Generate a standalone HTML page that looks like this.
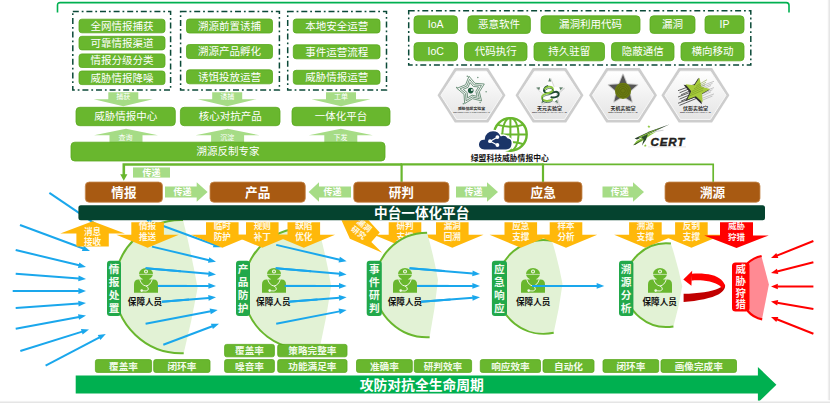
<!DOCTYPE html>
<html lang="zh-CN">
<head>
<meta charset="utf-8">
<title>攻防对抗全生命周期</title>
<style>
html,body{margin:0;padding:0;background:#fff;}
body{width:830px;height:403px;overflow:hidden;font-family:'Liberation Sans', 'Noto Sans CJK SC', sans-serif;}
svg{display:block;font-family:'Liberation Sans', 'Noto Sans CJK SC', sans-serif;}
</style>
</head>
<body>
<svg width="830" height="403" viewBox="0 0 830 403">
<defs>
<linearGradient id="gr" x1="0" x2="1" y1="0" y2="0"><stop offset="0" stop-color="#ffffff"/><stop offset="0.55" stop-color="#ececec"/><stop offset="1" stop-color="#e2e2e2"/></linearGradient>
<linearGradient id="gb" x1="0" x2="0" y1="0" y2="1"><stop offset="0" stop-color="#ffffff"/><stop offset="0.5" stop-color="#ececec"/><stop offset="1" stop-color="#e0e0e0"/></linearGradient>
<linearGradient id="hexg" x1="0" x2="0" y1="0" y2="1"><stop offset="0" stop-color="#ffffff"/><stop offset="1" stop-color="#e4e4e4"/></linearGradient>
<g id="person"><ellipse cx="0" cy="6" rx="7" ry="5.9" fill="#69B72E"/><rect x="-3.2" y="9" width="6.4" height="5" fill="#69B72E"/><path d="M-12,25 V16.5 Q-12,11.8 -7.5,11.8 H7.5 Q12,11.8 12,16.5 V25 Z" fill="#69B72E"/><path d="M-7.2,6.6 H7.2" stroke="#e8f5dc" stroke-width="0.7" fill="none"/><circle cx="0" cy="3.7" r="2" fill="#f4faee"/><circle cx="0" cy="3.7" r="0.9" fill="#69B72E"/><path d="M-6.3,11.6 Q-4.5,17.5 0,18.2 Q4.5,17.5 6.3,11.6" stroke="#eaf6e0" stroke-width="1" fill="none"/><path d="M0,18.2 Q3,19.5 2.3,21.8 Q1,24 -3.5,23" stroke="#eaf6e0" stroke-width="1" fill="none"/><circle cx="-4.3" cy="22.8" r="1.3" fill="#f4faee"/></g>
</defs>
<rect x="0" y="0" width="830" height="403" fill="#ffffff"/>
<rect x="827.2" y="0" width="2.8" height="403" fill="url(#gr)"/>
<rect x="0" y="400.4" width="830" height="2.6" fill="url(#gb)"/>
<path d="M57.5,12.6 V5.3 Q57.5,2.6 60.2,2.6 H786.3 Q789,2.6 789,5.3 V12.6" fill="none" stroke="#00B050" stroke-width="1.6"/>
<rect x="72.8" y="11.6" width="97.8" height="78.4" fill="none" stroke="#0B4A38" stroke-width="1.5" stroke-dasharray="6 2.9 1.8 2.9"/>
<rect x="180.6" y="11.6" width="98.8" height="78.4" fill="none" stroke="#0B4A38" stroke-width="1.5" stroke-dasharray="6 2.9 1.8 2.9"/>
<rect x="287.7" y="11.6" width="98.8" height="78.4" fill="none" stroke="#0B4A38" stroke-width="1.5" stroke-dasharray="6 2.9 1.8 2.9"/>
<rect x="408.7" y="10.8" width="342.1" height="54.2" fill="none" stroke="#0B4A38" stroke-width="1.5" stroke-dasharray="6 2.9 1.8 2.9"/>
<rect x="79" y="19.2" width="86" height="13.6" rx="2.8" fill="#69B72E" stroke="#58A81D" stroke-width="0.8"/>
<text x="122" y="29.78" font-size="10.5" fill="#fff" text-anchor="middle">全网情报捕获</text>
<rect x="79" y="36.3" width="86" height="13.6" rx="2.8" fill="#69B72E" stroke="#58A81D" stroke-width="0.8"/>
<text x="122" y="46.88" font-size="10.5" fill="#fff" text-anchor="middle">可靠情报渠道</text>
<rect x="79" y="53.9" width="86" height="13.6" rx="2.8" fill="#69B72E" stroke="#58A81D" stroke-width="0.8"/>
<text x="122" y="64.48" font-size="10.5" fill="#fff" text-anchor="middle">情报分级分类</text>
<rect x="79" y="71" width="86" height="13.6" rx="2.8" fill="#69B72E" stroke="#58A81D" stroke-width="0.8"/>
<text x="122" y="81.58" font-size="10.5" fill="#fff" text-anchor="middle">威胁情报降噪</text>
<rect x="186.5" y="19" width="86" height="14" rx="2.8" fill="#69B72E" stroke="#58A81D" stroke-width="0.8"/>
<text x="229.5" y="29.78" font-size="10.5" fill="#fff" text-anchor="middle">溯源前置诱捕</text>
<rect x="186.5" y="44.5" width="86" height="14" rx="2.8" fill="#69B72E" stroke="#58A81D" stroke-width="0.8"/>
<text x="229.5" y="55.28" font-size="10.5" fill="#fff" text-anchor="middle">溯源产品孵化</text>
<rect x="186.5" y="69.8" width="86" height="14" rx="2.8" fill="#69B72E" stroke="#58A81D" stroke-width="0.8"/>
<text x="229.5" y="80.58" font-size="10.5" fill="#fff" text-anchor="middle">诱饵投放运营</text>
<rect x="293.3" y="19" width="86.7" height="14" rx="2.8" fill="#69B72E" stroke="#58A81D" stroke-width="0.8"/>
<text x="336.65" y="29.78" font-size="10.5" fill="#fff" text-anchor="middle">本地安全运营</text>
<rect x="293.3" y="44.8" width="86.7" height="14" rx="2.8" fill="#69B72E" stroke="#58A81D" stroke-width="0.8"/>
<text x="336.65" y="55.58" font-size="10.5" fill="#fff" text-anchor="middle">事件运营流程</text>
<rect x="293.3" y="70.3" width="86.7" height="14" rx="2.8" fill="#69B72E" stroke="#58A81D" stroke-width="0.8"/>
<text x="336.65" y="81.08" font-size="10.5" fill="#fff" text-anchor="middle">威胁情报运营</text>
<rect x="414" y="15.8" width="43.5" height="17.6" rx="3.6" fill="#69B72E" stroke="#58A81D" stroke-width="0.8"/>
<text x="435.75" y="28.38" font-size="10.5" fill="#fff" text-anchor="middle">IoA</text>
<rect x="467.8" y="15.8" width="62.6" height="17.6" rx="3.6" fill="#69B72E" stroke="#58A81D" stroke-width="0.8"/>
<text x="499.1" y="28.38" font-size="10.5" fill="#fff" text-anchor="middle">恶意软件</text>
<rect x="541" y="15.8" width="99" height="17.6" rx="3.6" fill="#69B72E" stroke="#58A81D" stroke-width="0.8"/>
<text x="590.5" y="28.38" font-size="10.5" fill="#fff" text-anchor="middle">漏洞利用代码</text>
<rect x="650" y="15.8" width="45" height="17.6" rx="3.6" fill="#69B72E" stroke="#58A81D" stroke-width="0.8"/>
<text x="672.5" y="28.38" font-size="10.5" fill="#fff" text-anchor="middle">漏洞</text>
<rect x="705" y="15.8" width="39" height="17.6" rx="3.6" fill="#69B72E" stroke="#58A81D" stroke-width="0.8"/>
<text x="724.5" y="28.38" font-size="10.5" fill="#fff" text-anchor="middle">IP</text>
<rect x="414" y="42.6" width="43.5" height="18.2" rx="3.6" fill="#69B72E" stroke="#58A81D" stroke-width="0.8"/>
<text x="435.75" y="55.48" font-size="10.5" fill="#fff" text-anchor="middle">IoC</text>
<rect x="464.5" y="42.6" width="62.5" height="18.2" rx="3.6" fill="#69B72E" stroke="#58A81D" stroke-width="0.8"/>
<text x="495.75" y="55.48" font-size="10.5" fill="#fff" text-anchor="middle">代码执行</text>
<rect x="534" y="42.6" width="70.5" height="18.2" rx="3.6" fill="#69B72E" stroke="#58A81D" stroke-width="0.8"/>
<text x="569.25" y="55.48" font-size="10.5" fill="#fff" text-anchor="middle">持久驻留</text>
<rect x="611.5" y="42.6" width="62.5" height="18.2" rx="3.6" fill="#69B72E" stroke="#58A81D" stroke-width="0.8"/>
<text x="642.75" y="55.48" font-size="10.5" fill="#fff" text-anchor="middle">隐蔽通信</text>
<rect x="681" y="42.6" width="63" height="18.2" rx="3.6" fill="#69B72E" stroke="#58A81D" stroke-width="0.8"/>
<text x="712.5" y="55.48" font-size="10.5" fill="#fff" text-anchor="middle">横向移动</text>
<polygon points="108.3,92.2 138.3,92.2 138.3,99.2 152.8,99.2 123.3,106.3 93.8,99.2 108.3,99.2" fill="#A6DC86"/>
<text x="123.3" y="99.42" font-size="7" fill="#fff" text-anchor="middle">捕获</text>
<polygon points="126,128.8 158,135.3 142.5,135.3 142.5,143 109.5,143 109.5,135.3 94,135.3" fill="#A6DC86"/>
<text x="125.6" y="140.22" font-size="7" fill="#fff" text-anchor="middle">查询</text>
<polygon points="212.2,92.2 242.2,92.2 242.2,99.2 256.7,99.2 227.2,106.3 197.7,99.2 212.2,99.2" fill="#A6DC86"/>
<text x="227.2" y="99.42" font-size="7" fill="#fff" text-anchor="middle">诱捕</text>
<polygon points="227.6,128.8 259.6,135.3 244.1,135.3 244.1,143 211.1,143 211.1,135.3 195.6,135.3" fill="#A6DC86"/>
<text x="227.2" y="140.22" font-size="7" fill="#fff" text-anchor="middle">沉淀</text>
<polygon points="326,92.2 356,92.2 356,99.2 370.5,99.2 341,106.3 311.5,99.2 326,99.2" fill="#A6DC86"/>
<text x="341" y="99.42" font-size="7" fill="#fff" text-anchor="middle">工单</text>
<polygon points="340.8,128.8 372.8,135.3 357.3,135.3 357.3,143 324.3,143 324.3,135.3 308.8,135.3" fill="#A6DC86"/>
<text x="340.4" y="140.22" font-size="7" fill="#fff" text-anchor="middle">下发</text>
<rect x="76" y="107.3" width="99.3" height="18.4" rx="3.8" fill="#69B72E" stroke="#58A81D" stroke-width="0.8"/>
<text x="125.65" y="120.28" font-size="10.5" fill="#fff" text-anchor="middle">威胁情报中心</text>
<rect x="180.4" y="107.3" width="99.6" height="18.4" rx="3.8" fill="#69B72E" stroke="#58A81D" stroke-width="0.8"/>
<text x="230.2" y="120.28" font-size="10.5" fill="#fff" text-anchor="middle">核心对抗产品</text>
<rect x="292" y="107.3" width="98" height="18.4" rx="3.8" fill="#69B72E" stroke="#58A81D" stroke-width="0.8"/>
<text x="341" y="120.28" font-size="10.5" fill="#fff" text-anchor="middle">一体化平台</text>
<rect x="71" y="142.2" width="314" height="18.8" rx="3.8" fill="#69B72E" stroke="#58A81D" stroke-width="0.8"/>
<text x="228" y="155.38" font-size="10.5" fill="#fff" text-anchor="middle">溯源反制专家</text>
<polygon points="437.5,95.3 454.8,68.05 488.2,68.05 505.5,95.3 488.2,122.55 454.8,122.55" fill="#cdcdcd"/>
<polygon points="440.9,95.3 456.5,71.2 486.5,71.2 502.1,95.3 486.5,119.4 456.5,119.4" fill="url(#hexg)"/>
<polygon points="440.9,95.3 456.5,71.2 486.5,71.2 502.1,95.3 486.5,119.4 456.5,119.4" fill="none" stroke="#fafafa" stroke-width="0.9"/>
<polygon points="469.02,76.18 475.01,83.32 484.31,83.97 479.38,91.88 481.62,100.92 472.58,98.68 464.67,103.61 464.02,94.31 456.88,88.32 465.52,84.82" fill="none" stroke="#6c917a" stroke-width="0.95" stroke-linejoin="round"/>
<polygon points="469.52,79.34 474.2,84.91 481.46,85.42 477.61,91.6 479.36,98.66 472.3,96.91 466.12,100.76 465.61,93.5 460.04,88.82 466.79,86.09" fill="none" stroke="#6c917a" stroke-width="0.95" stroke-linejoin="round"/>
<polygon points="470.02,82.5 473.38,86.51 478.61,86.88 475.84,91.32 477.1,96.4 472.02,95.14 467.58,97.91 467.21,92.68 463.2,89.32 468.05,87.35" fill="none" stroke="#6c917a" stroke-width="0.95" stroke-linejoin="round"/>
<circle cx="456.7" cy="87.4" r="0.75" fill="#6c917a"/>
<circle cx="477.8" cy="77.4" r="0.75" fill="#6c917a"/>
<circle cx="486.1" cy="91.8" r="0.75" fill="#6c917a"/>
<circle cx="463.3" cy="103.8" r="0.75" fill="#6c917a"/>
<circle cx="480.1" cy="102.6" r="0.75" fill="#6c917a"/>
<circle cx="467.3" cy="76.2" r="0.75" fill="#6c917a"/>
<circle cx="470.7" cy="90.6" r="2.8" fill="#1f5a3f"/>
<circle cx="471.9" cy="90" r="0.9" fill="#ffffff"/>
<text x="471.5" y="109.6" font-size="3.9" fill="#2b2b2b" text-anchor="middle" font-weight="bold">威胁情报实验室</text>
<text x="471.5" y="112.5" font-size="2.3" fill="#333333" text-anchor="middle" textLength="36.5" lengthAdjust="spacingAndGlyphs"><tspan font-weight="bold">NSFOCUS</tspan> THREAT INTELLIGENCE LAB</text>
<polygon points="515.5,95.3 532.8,68.05 566.2,68.05 583.5,95.3 566.2,122.55 532.8,122.55" fill="#cdcdcd"/>
<polygon points="518.9,95.3 534.5,71.2 564.5,71.2 580.1,95.3 564.5,119.4 534.5,119.4" fill="url(#hexg)"/>
<polygon points="518.9,95.3 534.5,71.2 564.5,71.2 580.1,95.3 564.5,119.4 534.5,119.4" fill="none" stroke="#fafafa" stroke-width="0.9"/>
<polygon points="550.6,78 554.48,87.66 564.87,88.36 556.88,95.04 559.42,105.14 550.6,99.6 541.78,105.14 544.32,95.04 536.33,88.36 546.72,87.66" fill="#d9d9d9" stroke="#d9d9d9" stroke-width="1" stroke-linejoin="round"/>
<polygon points="549.7,77.2 553.52,86.74 563.78,87.43 555.88,94.01 558.4,103.97 549.7,98.5 541,103.97 543.52,94.01 535.62,87.43 545.88,86.74" fill="#ffffff"/>
<polygon points="549.7,77.8 551.2,81.4 548.2,81.4" fill="#5f7f6a"/>
<polygon points="563.21,87.61 560.24,90.15 559.32,87.3" fill="#5f7f6a"/>
<polygon points="558.05,103.49 554.72,101.46 557.14,99.69" fill="#5f7f6a"/>
<polygon points="541.35,103.49 542.26,99.69 544.68,101.46" fill="#5f7f6a"/>
<polygon points="536.19,87.61 540.08,87.3 539.16,90.15" fill="#5f7f6a"/>
<g transform="translate(549.7,92) scale(0.84) translate(-549.7,-91.4)">
<path d="M547.1,84.4 c-3.4,1.2 -5.4,4.4 -3.4,7 c2.2,2.6 8,1.4 11.4,0.2 c3.6,-1.2 6,0.6 5.2,3.4 c-0.8,2.6 -5.6,3.4 -8.6,2.6" fill="none" stroke="#1f4a33" stroke-width="2.3" stroke-linecap="round"/>
<path d="M544.1,87.6 c2.5,-3.6 8.5,-3.4 9.5,0.4 c0.8,3.6 -4.5,4.6 -8,5.4 c-4.2,1 -6.4,3.4 -4.6,6.4 c2,3 8.6,2.8 11.4,0.4" fill="none" stroke="#8CC63F" stroke-width="2.3" stroke-linecap="round"/>
<path d="M544.5,89.6 c2.5,-3.6 8.5,-3.4 9.5,0.4 c0.8,3.6 -4.5,4.6 -8,5.4 c-4.2,1 -6.4,3.4 -4.6,6.4 c2,3 8.6,2.8 11.4,0.4" fill="none" stroke="#1f4a33" stroke-width="0.8" stroke-linecap="round"/>
</g>
<text x="549.5" y="110" font-size="5" fill="#2b2b2b" text-anchor="middle" font-weight="bold">天元实验室</text>
<text x="549.5" y="113.4" font-size="2.3" fill="#333333" text-anchor="middle" textLength="35" lengthAdjust="spacingAndGlyphs"><tspan font-weight="bold">NSFOCUS</tspan> TIANYUAN LAB</text>
<polygon points="589,95.3 606.3,68.05 639.7,68.05 657,95.3 639.7,122.55 606.3,122.55" fill="#cdcdcd"/>
<polygon points="592.4,95.3 608,71.2 638,71.2 653.6,95.3 638,119.4 608,119.4" fill="url(#hexg)"/>
<polygon points="592.4,95.3 608,71.2 638,71.2 653.6,95.3 638,119.4 608,119.4" fill="none" stroke="#fafafa" stroke-width="0.9"/>
<polygon points="623,74.4 627,84.1 637.46,84.9 629.47,91.7 631.93,101.9 623,96.4 614.07,101.9 616.53,91.7 608.54,84.9 619,84.1" fill="#c9c9c9" stroke="#c9c9c9" stroke-width="1.6" stroke-linejoin="round"/>
<polygon points="623,74.8 626.88,84.26 637.08,85.03 629.28,91.64 631.7,101.57 623,96.2 614.3,101.57 616.72,91.64 608.92,85.03 619.12,84.26" fill="#555555"/>
<circle cx="623" cy="90.8" r="8.1" fill="#6b7a12"/>
<circle cx="623" cy="90.8" r="6.2" fill="none" stroke="#58650c" stroke-width="0.7"/>
<circle cx="623" cy="90.8" r="4.3" fill="none" stroke="#58650c" stroke-width="0.7"/>
<circle cx="623" cy="90.8" r="2.4" fill="none" stroke="#58650c" stroke-width="0.7"/>
<text x="623" y="110" font-size="5" fill="#2b2b2b" text-anchor="middle" font-weight="bold">天机实验室</text>
<text x="623" y="112.6" font-size="2.3" fill="#333333" text-anchor="middle" textLength="29.5" lengthAdjust="spacingAndGlyphs"><tspan font-weight="bold">NSFOCUS</tspan> TIANJI LAB</text>
<polygon points="661.4,95.3 678.7,68.05 712.1,68.05 729.4,95.3 712.1,122.55 678.7,122.55" fill="#cdcdcd"/>
<polygon points="664.8,95.3 680.4,71.2 710.4,71.2 726,95.3 710.4,119.4 680.4,119.4" fill="url(#hexg)"/>
<polygon points="664.8,95.3 680.4,71.2 710.4,71.2 726,95.3 710.4,119.4 680.4,119.4" fill="none" stroke="#fafafa" stroke-width="0.9"/>
<line x1="678" y1="90.7" x2="696" y2="83.9" stroke="#3c3c3c" stroke-width="0.8"/>
<line x1="700" y1="86.5" x2="714" y2="81.3" stroke="#b9b9b9" stroke-width="0.8"/>
<line x1="679.5" y1="92.8" x2="696" y2="86" stroke="#3c3c3c" stroke-width="0.8"/>
<line x1="700" y1="88.6" x2="712.5" y2="83.4" stroke="#b9b9b9" stroke-width="0.8"/>
<line x1="681" y1="94.9" x2="696" y2="88.1" stroke="#3c3c3c" stroke-width="0.8"/>
<line x1="700" y1="90.7" x2="711" y2="85.5" stroke="#b9b9b9" stroke-width="0.8"/>
<line x1="678" y1="97" x2="696" y2="90.2" stroke="#3c3c3c" stroke-width="0.8"/>
<line x1="700" y1="92.8" x2="714" y2="87.6" stroke="#b9b9b9" stroke-width="0.8"/>
<line x1="679.5" y1="99.1" x2="696" y2="92.3" stroke="#3c3c3c" stroke-width="0.8"/>
<line x1="700" y1="94.9" x2="712.5" y2="89.7" stroke="#b9b9b9" stroke-width="0.8"/>
<line x1="681" y1="101.2" x2="696" y2="94.4" stroke="#3c3c3c" stroke-width="0.8"/>
<line x1="700" y1="97" x2="711" y2="91.8" stroke="#b9b9b9" stroke-width="0.8"/>
<line x1="678" y1="103.3" x2="696" y2="96.5" stroke="#3c3c3c" stroke-width="0.8"/>
<line x1="700" y1="99.1" x2="714" y2="93.9" stroke="#b9b9b9" stroke-width="0.8"/>
<line x1="679.5" y1="105.4" x2="696" y2="98.6" stroke="#3c3c3c" stroke-width="0.8"/>
<line x1="700" y1="101.2" x2="712.5" y2="96" stroke="#b9b9b9" stroke-width="0.8"/>
<polygon points="698.47,77.76 700.33,87.27 709.7,89.79 701.22,94.51 701.72,104.19 694.62,97.59 685.56,101.05 689.65,92.26 683.56,84.71 693.18,85.88" fill="#2f2f2f"/>
<polygon points="699.52,77.64 701.24,86.64 710.1,88.99 702.07,93.41 702.58,102.56 695.89,96.29 687.35,99.6 691.24,91.31 685.46,84.2 694.55,85.34" fill="#A6CB3B"/>
<line x1="688" y1="96.6" x2="703" y2="90.1" stroke="#6f8f22" stroke-width="0.5"/>
<line x1="690" y1="94" x2="704" y2="87.5" stroke="#6f8f22" stroke-width="0.5"/>
<line x1="692" y1="91.4" x2="705" y2="84.9" stroke="#6f8f22" stroke-width="0.5"/>
<line x1="694" y1="88.8" x2="706" y2="82.3" stroke="#6f8f22" stroke-width="0.5"/>
<line x1="696" y1="86.2" x2="707" y2="79.7" stroke="#6f8f22" stroke-width="0.5"/>
<text x="695.4" y="110" font-size="5" fill="#2b2b2b" text-anchor="middle" font-weight="bold">伏影实验室</text>
<text x="695.4" y="112.6" font-size="2.3" fill="#333333" text-anchor="middle" textLength="31" lengthAdjust="spacingAndGlyphs"><tspan font-weight="bold">NSFOCUS</tspan> FUYING LAB</text>
<g fill="none" stroke="#69B72E" stroke-width="2">
<circle cx="510.4" cy="134.4" r="16.3" stroke-width="2.4"/>
<ellipse cx="510.4" cy="134.4" rx="8.15" ry="16.3"/>
<line x1="510.4" y1="118.1" x2="510.4" y2="150.7"/>
<line x1="494.1" y1="134.4" x2="526.7" y2="134.4"/>
<path d="M497.1,124.6 Q510.4,128.9 523.7,124.6"/>
<path d="M497.1,144.2 Q510.4,139.9 523.7,144.2"/>
</g>
<path d="M484.5,150.2 C479.5,150.2 477.8,146.6 478.3,143.6 C478.8,140.6 481.3,138.8 484,138.9 C484.2,134.3 488,130.5 493,130.5 C496.6,130.5 499.6,132.4 501,135.4 C503.6,134.6 506.6,135.5 508.2,137.8 C511.2,138.3 512.6,141.2 512.3,144 C512,147.6 509.5,150.2 506,150.2 Z" fill="#1B3468" stroke="#ffffff" stroke-width="1.6"/>
<g stroke="#ffffff" stroke-width="1.1"><line x1="497.2" y1="137.2" x2="490.2" y2="141.2"/><line x1="490.2" y1="141.2" x2="497.2" y2="144.9"/></g>
<circle cx="497.4" cy="137.1" r="1.9" fill="#ffffff"/>
<circle cx="490" cy="141.2" r="1.9" fill="#ffffff"/>
<circle cx="497.4" cy="145" r="1.9" fill="#ffffff"/>
<text x="509.8" y="161.21" font-size="7.8" fill="#111111" text-anchor="middle" font-weight="bold">绿盟科技威胁情报中心</text>
<polygon points="634.6,138.6 650,131.2 669.8,124.2 652,132.6 637,139.4" fill="#2a3f2a"/>
<polygon points="638.5,137.2 652,130.9 662,127.4 651.5,132.2 640,138" fill="#8CC63F"/>
<polygon points="633.2,145.3 636.5,141 648,134.4 656.5,131.4 650,135.6 641.5,141.6" fill="#8CC63F"/>
<polygon points="633.2,145.3 635.5,143.6 645,138 640,141.4 635.4,144.8" fill="#2a3f2a"/>
<polygon points="641.2,137.2 647.8,134.2 646,139.8 642,145.6 643.6,139.4" fill="#2e4d2e"/>
<polygon points="648.9,124.9 649.31,126.03 650.52,126.07 649.57,126.82 649.9,127.98 648.9,127.3 647.9,127.98 648.23,126.82 647.28,126.07 648.49,126.03" fill="#8CC63F"/>
<polygon points="645.3,144 645.65,145.11 646.82,145.11 645.87,145.79 646.24,146.89 645.3,146.2 644.36,146.89 644.73,145.79 643.78,145.11 644.95,145.11" fill="#8CC63F"/>
<line x1="655" y1="131.6" x2="663.5" y2="130.2" stroke="#c4c4c4" stroke-width="0.8"/>
<text x="650.4" y="145.5" font-size="11.6" fill="#231f20" text-anchor="start" font-weight="bold" font-style="italic" letter-spacing="0.9" stroke="#231f20" stroke-width="0.45">CERT</text>
<line x1="648" y1="146.9" x2="686" y2="146.9" stroke="#dcdcdc" stroke-width="0.7"/>
<g fill="none" stroke="#69B72E">
<path d="M542,164.3 H713.2 V182" stroke-width="1.7"/>
<path d="M400.5,164.4 H543 M543,163.4 V182 M401.6,164.5 V182" stroke-width="2.2"/>
<path d="M123.8,176 V164.5 H402" stroke-width="2.6"/>
</g>
<polygon points="123.8,180.8 120.2,174.2 127.4,174.2" fill="#69B72E"/>
<rect x="133" y="167.4" width="37" height="10.2" fill="#A6DC86"/>
<text x="151.4" y="175.84" font-size="9" fill="#fff" text-anchor="middle" font-weight="bold">传递</text>
<rect x="85.3" y="182" width="77.2" height="20.3" rx="4" fill="#A85A12" stroke="#C68A50" stroke-width="0.8"/>
<text x="123.9" y="196.74" font-size="12.6" fill="#fff" text-anchor="middle" font-weight="bold">情报</text>
<rect x="210" y="182" width="95.3" height="20.3" rx="4" fill="#A85A12" stroke="#C68A50" stroke-width="0.8"/>
<text x="257.65" y="196.74" font-size="12.6" fill="#fff" text-anchor="middle" font-weight="bold">产品</text>
<rect x="353.7" y="182" width="95.3" height="20.3" rx="4" fill="#A85A12" stroke="#C68A50" stroke-width="0.8"/>
<text x="401.35" y="196.74" font-size="12.6" fill="#fff" text-anchor="middle" font-weight="bold">研判</text>
<rect x="504.3" y="182" width="77.7" height="20.3" rx="4" fill="#A85A12" stroke="#C68A50" stroke-width="0.8"/>
<text x="543.15" y="196.74" font-size="12.6" fill="#fff" text-anchor="middle" font-weight="bold">应急</text>
<rect x="665" y="182" width="95" height="20.3" rx="4" fill="#A85A12" stroke="#C68A50" stroke-width="0.8"/>
<text x="712.5" y="196.74" font-size="12.6" fill="#fff" text-anchor="middle" font-weight="bold">溯源</text>
<polygon points="165,186.5 196.7,186.5 196.7,182.2 207.6,192 196.7,201.8 196.7,197.5 165,197.5" fill="#A6DC86"/>
<text x="182.5" y="195.44" font-size="9" fill="#fff" text-anchor="middle" font-weight="bold">传递</text>
<polygon points="351,186.5 319,186.5 319,182.2 308.6,192 319,201.8 319,197.5 351,197.5" fill="#A6DC86"/>
<text x="332.4" y="195.44" font-size="9" fill="#fff" text-anchor="middle" font-weight="bold">传递</text>
<polygon points="456,186.5 487,186.5 487,182.2 498,192 487,201.8 487,197.5 456,197.5" fill="#A6DC86"/>
<text x="473.4" y="195.44" font-size="9" fill="#fff" text-anchor="middle" font-weight="bold">传递</text>
<polygon points="602.5,186.5 633,186.5 633,182.2 644,192 633,201.8 633,197.5 602.5,197.5" fill="#A6DC86"/>
<text x="619.8" y="195.44" font-size="9" fill="#fff" text-anchor="middle" font-weight="bold">传递</text>
<line x1="49.4" y1="192.9" x2="100" y2="227.2" stroke="#1AA7EC" stroke-width="2"/>
<path d="M183,220.1 A66.56,66.56 0 1 0 183.7,353.15 Q191.85,320.94 197.6,288 Q191.5,253.69 183,220.1 Z" fill="#E2F2D5"/>
<path d="M183,220.1 A66.56,66.56 0 1 0 183.7,353.15" fill="none" stroke="#69B72E" stroke-width="2"/>
<path d="M319,229.9 A60.5,60.5 0 1 0 320,346.8 Q326.8,316.76 331.2,286 Q326.3,257.59 319,229.9 Z" fill="#E2F2D5"/>
<path d="M319,229.9 A60.5,60.5 0 1 0 320,346.8" fill="none" stroke="#69B72E" stroke-width="2"/>
<line x1="20" y1="225" x2="83.34" y2="248.53" stroke="#1AA7EC" stroke-width="2"/>
<polygon points="90,251 81.87,251.07 83.89,245.64" fill="#1AA7EC"/>
<line x1="15.7" y1="250" x2="79.1" y2="265.33" stroke="#1AA7EC" stroke-width="2"/>
<polygon points="86,267 77.93,268.03 79.29,262.39" fill="#1AA7EC"/>
<line x1="15.7" y1="273.8" x2="78.92" y2="278.39" stroke="#1AA7EC" stroke-width="2"/>
<polygon points="86,278.9 78.21,281.24 78.63,275.46" fill="#1AA7EC"/>
<line x1="12.7" y1="291" x2="78.9" y2="291" stroke="#1AA7EC" stroke-width="2"/>
<polygon points="86,291 78.4,293.9 78.4,288.1" fill="#1AA7EC"/>
<line x1="15.7" y1="308" x2="78.92" y2="303.5" stroke="#1AA7EC" stroke-width="2"/>
<polygon points="86,303 78.62,306.43 78.21,300.65" fill="#1AA7EC"/>
<line x1="15.7" y1="328.7" x2="79.02" y2="316.9" stroke="#1AA7EC" stroke-width="2"/>
<polygon points="86,315.6 79.06,319.84 78,314.14" fill="#1AA7EC"/>
<line x1="20.3" y1="351" x2="82.22" y2="331.62" stroke="#1AA7EC" stroke-width="2"/>
<polygon points="89,329.5 82.61,334.54 80.88,329" fill="#1AA7EC"/>
<line x1="45.6" y1="365.7" x2="99.52" y2="337.31" stroke="#1AA7EC" stroke-width="2"/>
<polygon points="105.8,334 100.43,340.11 97.72,334.98" fill="#1AA7EC"/>
<line x1="147" y1="220" x2="214.34" y2="244.75" stroke="#1AA7EC" stroke-width="2"/>
<polygon points="221,247.2 212.87,247.3 214.87,241.86" fill="#1AA7EC"/>
<line x1="152" y1="246.6" x2="209.09" y2="260.16" stroke="#1AA7EC" stroke-width="2"/>
<polygon points="216,261.8 207.94,262.87 209.28,257.22" fill="#1AA7EC"/>
<line x1="145.6" y1="268.2" x2="208.93" y2="273.87" stroke="#1AA7EC" stroke-width="2"/>
<polygon points="216,274.5 208.17,276.71 208.69,270.93" fill="#1AA7EC"/>
<line x1="157.7" y1="285.9" x2="208.9" y2="285.9" stroke="#1AA7EC" stroke-width="2"/>
<polygon points="216,285.9 208.4,288.8 208.4,283" fill="#1AA7EC"/>
<line x1="162" y1="301.8" x2="208.92" y2="297.89" stroke="#1AA7EC" stroke-width="2"/>
<polygon points="216,297.3 208.67,300.82 208.19,295.04" fill="#1AA7EC"/>
<line x1="145.6" y1="323.7" x2="210.72" y2="311.33" stroke="#1AA7EC" stroke-width="2"/>
<polygon points="217.7,310 210.77,314.27 209.69,308.57" fill="#1AA7EC"/>
<line x1="163.3" y1="344.7" x2="212.36" y2="326.2" stroke="#1AA7EC" stroke-width="2"/>
<polygon points="219,323.7 212.91,329.09 210.87,323.67" fill="#1AA7EC"/>
<line x1="276.2" y1="244.9" x2="339.69" y2="259.69" stroke="#1AA7EC" stroke-width="2"/>
<polygon points="346.6,261.3 338.54,262.4 339.86,256.75" fill="#1AA7EC"/>
<line x1="275.7" y1="268.2" x2="339.53" y2="273.87" stroke="#1AA7EC" stroke-width="2"/>
<polygon points="346.6,274.5 338.77,276.72 339.29,270.94" fill="#1AA7EC"/>
<line x1="284.6" y1="285.9" x2="339.5" y2="285.9" stroke="#1AA7EC" stroke-width="2"/>
<polygon points="346.6,285.9 339,288.8 339,283" fill="#1AA7EC"/>
<line x1="288.4" y1="301.8" x2="339.52" y2="297.85" stroke="#1AA7EC" stroke-width="2"/>
<polygon points="346.6,297.3 339.25,300.78 338.8,294.99" fill="#1AA7EC"/>
<line x1="276.2" y1="323.7" x2="339.63" y2="311.36" stroke="#1AA7EC" stroke-width="2"/>
<polygon points="346.6,310 339.69,314.3 338.59,308.61" fill="#1AA7EC"/>
<path d="M552,240.7 A46.93,46.93 0 1 0 553.7,332.8 Q559.3,308.76 562.5,284 Q558.45,261.99 552,240.7 Z" fill="#E2F2D5"/>
<path d="M552,240.7 A46.93,46.93 0 1 0 553.7,332.8" fill="none" stroke="#69B72E" stroke-width="2"/>
<polygon points="92.6,221.3 124.9,233.6 108.8,233.6 108.8,246.6 76.4,246.6 76.4,233.6 60.3,233.6" fill="#FFB80A"/>
<text x="92.6" y="235.2" font-size="8.6" fill="#fff8e6" text-anchor="middle" font-weight="bold">消息</text>
<text x="92.6" y="245.1" font-size="8.6" fill="#fff8e6" text-anchor="middle" font-weight="bold">接收</text>
<polygon points="341.5,220.3 349.9,238.8 382.2,252.7 371.3,242 379.7,232.4 368.5,220.3" fill="#FFB80A"/>
<polygon points="131.3,222.2 163.9,222.2 163.9,234.8 178.85,234.8 147.6,247.8 116.35,234.8 131.3,234.8" fill="#FFB80A"/>
<polygon points="206,222.2 238.6,222.2 238.6,234.8 253.55,234.8 222.3,247.8 191.05,234.8 206,234.8" fill="#FFB80A"/>
<polygon points="246,222.2 278.6,222.2 278.6,234.8 293.55,234.8 262.3,247.8 231.05,234.8 246,234.8" fill="#FFB80A"/>
<polygon points="287.5,222.2 320.1,222.2 320.1,234.8 335.05,234.8 303.8,247.8 272.55,234.8 287.5,234.8" fill="#FFB80A"/>
<polygon points="388.7,222.2 421.3,222.2 421.3,234.8 436.25,234.8 405,247.8 373.75,234.8 388.7,234.8" fill="#FFB80A"/>
<polygon points="436,222.2 468.6,222.2 468.6,234.8 483.55,234.8 452.3,247.8 421.05,234.8 436,234.8" fill="#FFB80A"/>
<polygon points="504.5,222.2 537.1,222.2 537.1,234.8 552.05,234.8 520.8,247.8 489.55,234.8 504.5,234.8" fill="#FFB80A"/>
<polygon points="549.7,222.2 582.3,222.2 582.3,234.8 597.25,234.8 566,247.8 534.75,234.8 549.7,234.8" fill="#FFB80A"/>
<polygon points="629.1,222.2 661.7,222.2 661.7,234.8 676.65,234.8 645.4,247.8 614.15,234.8 629.1,234.8" fill="#FFB80A"/>
<polygon points="675.1,222.2 707.7,222.2 707.7,234.8 722.65,234.8 691.4,247.8 660.15,234.8 675.1,234.8" fill="#FFB80A"/>
<text x="147.6" y="229.4" font-size="8.6" fill="#fff8e6" text-anchor="middle" font-weight="bold">情报</text>
<text x="147.6" y="239.9" font-size="8.6" fill="#fff8e6" text-anchor="middle" font-weight="bold">推送</text>
<text x="222.3" y="229.4" font-size="8.6" fill="#fff8e6" text-anchor="middle" font-weight="bold">临时</text>
<text x="222.3" y="239.9" font-size="8.6" fill="#fff8e6" text-anchor="middle" font-weight="bold">防护</text>
<text x="262.3" y="229.4" font-size="8.6" fill="#fff8e6" text-anchor="middle" font-weight="bold">规则</text>
<text x="262.3" y="239.9" font-size="8.6" fill="#fff8e6" text-anchor="middle" font-weight="bold">补丁</text>
<text x="303.8" y="229.4" font-size="8.6" fill="#fff8e6" text-anchor="middle" font-weight="bold">缺陷</text>
<text x="303.8" y="239.9" font-size="8.6" fill="#fff8e6" text-anchor="middle" font-weight="bold">优化</text>
<text x="405" y="229.4" font-size="8.6" fill="#fff8e6" text-anchor="middle" font-weight="bold">研判</text>
<text x="405" y="239.9" font-size="8.6" fill="#fff8e6" text-anchor="middle" font-weight="bold">支撑</text>
<text x="452.3" y="229.4" font-size="8.6" fill="#fff8e6" text-anchor="middle" font-weight="bold">漏洞</text>
<text x="452.3" y="239.9" font-size="8.6" fill="#fff8e6" text-anchor="middle" font-weight="bold">回溯</text>
<text x="520.8" y="229.4" font-size="8.6" fill="#fff8e6" text-anchor="middle" font-weight="bold">应急</text>
<text x="520.8" y="239.9" font-size="8.6" fill="#fff8e6" text-anchor="middle" font-weight="bold">支撑</text>
<text x="566" y="229.4" font-size="8.6" fill="#fff8e6" text-anchor="middle" font-weight="bold">样本</text>
<text x="566" y="239.9" font-size="8.6" fill="#fff8e6" text-anchor="middle" font-weight="bold">分析</text>
<text x="645.4" y="229.4" font-size="8.6" fill="#fff8e6" text-anchor="middle" font-weight="bold">溯源</text>
<text x="645.4" y="239.9" font-size="8.6" fill="#fff8e6" text-anchor="middle" font-weight="bold">支撑</text>
<text x="691.4" y="229.4" font-size="8.6" fill="#fff8e6" text-anchor="middle" font-weight="bold">反制</text>
<text x="691.4" y="239.9" font-size="8.6" fill="#fff8e6" text-anchor="middle" font-weight="bold">支撑</text>
<g transform="translate(361.5,229) rotate(38)">
<text x="0" y="-1.72" font-size="8" fill="#fff8e6" text-anchor="middle" font-weight="bold">漏洞</text>
<text x="0" y="7.48" font-size="8" fill="#fff8e6" text-anchor="middle" font-weight="bold">研究</text>
</g>
<polygon points="720,222.2 753,222.2 753,235.4 768.8,235.4 736.5,248 704.2,235.4 720,235.4" fill="#FF0000"/>
<text x="736.5" y="229.36" font-size="8.5" fill="#ffecec" text-anchor="middle" font-weight="bold">威胁</text>
<text x="736.5" y="239.86" font-size="8.5" fill="#ffecec" text-anchor="middle" font-weight="bold">狩猎</text>
<rect x="78.4" y="205.2" width="686.6" height="15.1" rx="2.5" fill="#05432F"/>
<text x="421.7" y="217.8" font-size="13.6" fill="#fff" text-anchor="middle" font-weight="bold">中台一体化平台</text>
<path d="M427.1,232.7 A52.33,52.33 0 1 0 429.6,337.3 Q435,309.01 438,280 Q433.75,255.99 427.1,232.7 Z" fill="#E2F2D5"/>
<path d="M427.1,232.7 A52.33,52.33 0 1 0 429.6,337.3" fill="none" stroke="#69B72E" stroke-width="2"/>
<path d="M670.9,243.6 A41.8,41.8 0 1 0 673.4,326.4 Q679,306.66 682.2,286.2 Q677.75,264.54 670.9,243.6 Z" fill="#E2F2D5"/>
<path d="M670.9,243.6 A41.8,41.8 0 1 0 673.4,326.4" fill="none" stroke="#69B72E" stroke-width="2"/>
<line x1="409.6" y1="268.2" x2="472.92" y2="273.42" stroke="#1AA7EC" stroke-width="2"/>
<polygon points="480,274 472.19,276.27 472.66,270.49" fill="#1AA7EC"/>
<line x1="417.2" y1="285.9" x2="472.9" y2="285.9" stroke="#1AA7EC" stroke-width="2"/>
<polygon points="480,285.9 472.4,288.8 472.4,283" fill="#1AA7EC"/>
<line x1="421" y1="301.8" x2="472.92" y2="297.84" stroke="#1AA7EC" stroke-width="2"/>
<polygon points="480,297.3 472.64,300.77 472.2,294.99" fill="#1AA7EC"/>
<line x1="532" y1="285.9" x2="597.2" y2="285.9" stroke="#1AA7EC" stroke-width="2"/>
<polygon points="604.3,285.9 596.7,288.8 596.7,283" fill="#1AA7EC"/>
<rect x="107" y="260.8" width="14" height="55.2" rx="3" fill="#22A84A"/>
<text x="114" y="272.55" font-size="10.7" fill="#f3fbf0" text-anchor="middle" font-weight="bold">情</text>
<text x="114" y="285.75" font-size="10.7" fill="#f3fbf0" text-anchor="middle" font-weight="bold">报</text>
<text x="114" y="298.95" font-size="10.7" fill="#f3fbf0" text-anchor="middle" font-weight="bold">处</text>
<text x="114" y="312.15" font-size="10.7" fill="#f3fbf0" text-anchor="middle" font-weight="bold">置</text>
<use href="#person" x="146" y="267.8"/>
<text x="145" y="304.5" font-size="8.6" fill="#111111" text-anchor="middle" font-weight="bold">保障人员</text>
<rect x="236" y="260.8" width="14" height="55.2" rx="3" fill="#22A84A"/>
<text x="243" y="272.55" font-size="10.7" fill="#f3fbf0" text-anchor="middle" font-weight="bold">产</text>
<text x="243" y="285.75" font-size="10.7" fill="#f3fbf0" text-anchor="middle" font-weight="bold">品</text>
<text x="243" y="298.95" font-size="10.7" fill="#f3fbf0" text-anchor="middle" font-weight="bold">防</text>
<text x="243" y="312.15" font-size="10.7" fill="#f3fbf0" text-anchor="middle" font-weight="bold">护</text>
<use href="#person" x="274" y="267.8"/>
<text x="273.3" y="304.5" font-size="8.6" fill="#111111" text-anchor="middle" font-weight="bold">保障人员</text>
<rect x="366.7" y="260.8" width="15.1" height="55.2" rx="3" fill="#22A84A"/>
<text x="374.25" y="272.55" font-size="10.7" fill="#f3fbf0" text-anchor="middle" font-weight="bold">事</text>
<text x="374.25" y="285.75" font-size="10.7" fill="#f3fbf0" text-anchor="middle" font-weight="bold">件</text>
<text x="374.25" y="298.95" font-size="10.7" fill="#f3fbf0" text-anchor="middle" font-weight="bold">研</text>
<text x="374.25" y="312.15" font-size="10.7" fill="#f3fbf0" text-anchor="middle" font-weight="bold">判</text>
<use href="#person" x="405" y="267.8"/>
<text x="404.9" y="304.5" font-size="8.6" fill="#111111" text-anchor="middle" font-weight="bold">保障人员</text>
<rect x="491.9" y="260.8" width="15.1" height="55.2" rx="3" fill="#22A84A"/>
<text x="499.45" y="272.55" font-size="10.7" fill="#f3fbf0" text-anchor="middle" font-weight="bold">应</text>
<text x="499.45" y="285.75" font-size="10.7" fill="#f3fbf0" text-anchor="middle" font-weight="bold">急</text>
<text x="499.45" y="298.95" font-size="10.7" fill="#f3fbf0" text-anchor="middle" font-weight="bold">响</text>
<text x="499.45" y="312.15" font-size="10.7" fill="#f3fbf0" text-anchor="middle" font-weight="bold">应</text>
<use href="#person" x="533" y="267.8"/>
<text x="533.2" y="304.5" font-size="8.6" fill="#111111" text-anchor="middle" font-weight="bold">保障人员</text>
<rect x="619" y="260.8" width="14.4" height="55.2" rx="3" fill="#22A84A"/>
<text x="626.2" y="272.55" font-size="10.7" fill="#f3fbf0" text-anchor="middle" font-weight="bold">溯</text>
<text x="626.2" y="285.75" font-size="10.7" fill="#f3fbf0" text-anchor="middle" font-weight="bold">源</text>
<text x="626.2" y="298.95" font-size="10.7" fill="#f3fbf0" text-anchor="middle" font-weight="bold">分</text>
<text x="626.2" y="312.15" font-size="10.7" fill="#f3fbf0" text-anchor="middle" font-weight="bold">析</text>
<use href="#person" x="660" y="267.8"/>
<text x="659.7" y="304.5" font-size="8.6" fill="#111111" text-anchor="middle" font-weight="bold">保障人员</text>
<line x1="145.6" y1="268.2" x2="180.8" y2="271.35" stroke="#1AA7EC" stroke-width="2"/>
<line x1="157.7" y1="285.9" x2="186.85" y2="285.9" stroke="#1AA7EC" stroke-width="2"/>
<line x1="162" y1="301.8" x2="189" y2="299.55" stroke="#1AA7EC" stroke-width="2"/>
<line x1="275.7" y1="268.2" x2="311.15" y2="271.35" stroke="#1AA7EC" stroke-width="2"/>
<line x1="284.6" y1="285.9" x2="315.6" y2="285.9" stroke="#1AA7EC" stroke-width="2"/>
<line x1="288.4" y1="301.8" x2="317.5" y2="299.55" stroke="#1AA7EC" stroke-width="2"/>
<line x1="409.6" y1="268.2" x2="444.8" y2="271.1" stroke="#1AA7EC" stroke-width="2"/>
<line x1="417.2" y1="285.9" x2="448.6" y2="285.9" stroke="#1AA7EC" stroke-width="2"/>
<line x1="421" y1="301.8" x2="450.5" y2="299.55" stroke="#1AA7EC" stroke-width="2"/>
<line x1="532" y1="285.9" x2="568.15" y2="285.9" stroke="#1AA7EC" stroke-width="2"/>
<path d="M748,262.8 Q753.5,257.6 761.4,256 L768.9,284.6 L762,319.2 Q753.5,318 748,311.2 Z" fill="#FF8A93"/>
<path d="M747.5,263.4 Q753.5,257.6 761.6,256" fill="none" stroke="#FF0000" stroke-width="2.2"/>
<path d="M747.5,310.8 Q753.5,318 762.2,319.3" fill="none" stroke="#FF0000" stroke-width="2.2"/>
<rect x="732" y="262.6" width="17.5" height="48.9" rx="3.5" fill="#FF0000"/>
<text x="740.8" y="273.24" font-size="10.4" fill="#fff0f0" text-anchor="middle" font-weight="bold">威</text>
<text x="740.8" y="284.94" font-size="10.4" fill="#fff0f0" text-anchor="middle" font-weight="bold">胁</text>
<text x="740.8" y="296.64" font-size="10.4" fill="#fff0f0" text-anchor="middle" font-weight="bold">狩</text>
<text x="740.8" y="308.34" font-size="10.4" fill="#fff0f0" text-anchor="middle" font-weight="bold">猎</text>
<line x1="813.4" y1="241" x2="776.85" y2="255.66" stroke="#FF0000" stroke-width="2"/>
<polygon points="771,258 776.31,252.96 778.32,257.98" fill="#FF0000"/>
<line x1="813.4" y1="262.2" x2="777.11" y2="271.44" stroke="#FF0000" stroke-width="2"/>
<polygon points="771,273 776.92,268.71 778.26,273.94" fill="#FF0000"/>
<line x1="813.4" y1="286.5" x2="777.3" y2="286.5" stroke="#FF0000" stroke-width="2"/>
<polygon points="771,286.5 777.8,283.8 777.8,289.2" fill="#FF0000"/>
<line x1="813.4" y1="309" x2="777.21" y2="302.68" stroke="#FF0000" stroke-width="2"/>
<polygon points="771,301.6 778.16,300.11 777.23,305.43" fill="#FF0000"/>
<line x1="813.4" y1="333.8" x2="776.85" y2="319.23" stroke="#FF0000" stroke-width="2"/>
<polygon points="771,316.9 778.32,316.91 776.32,321.93" fill="#FF0000"/>
<path d="M683.6,293.8 C698,293.6 712,291.5 718.8,288.2 C721.5,286.8 723.6,285.4 724.9,284.2 C725.8,287.5 724,291 718.8,294.3 C712,298 698,301 683.6,302.1 Z" fill="#C00000"/>
<path d="M691.5,273.8 C703,272.6 716,274.5 721,279.5 C723.5,282 724.9,284 724.9,286 L722.2,289.2 C721.5,284.6 712,281.2 703,280.4 C698,280 694,280.2 691.5,280.6 Z" fill="#FF0000"/>
<polygon points="683.3,279.6 692.2,270.8 691.4,285.8" fill="#FF0000"/>
<rect x="95.4" y="359.6" width="56.2" height="12.8" rx="2" fill="#69B72E" stroke="#58A81D" stroke-width="0.8"/>
<text x="123.5" y="369.66" font-size="9.6" fill="#f2fbe9" text-anchor="middle" font-weight="bold">覆盖率</text>
<rect x="153.7" y="359.6" width="56.3" height="12.8" rx="2" fill="#69B72E" stroke="#58A81D" stroke-width="0.8"/>
<text x="181.85" y="369.66" font-size="9.6" fill="#f2fbe9" text-anchor="middle" font-weight="bold">闭环率</text>
<rect x="224.6" y="359.6" width="49.8" height="12.8" rx="2" fill="#69B72E" stroke="#58A81D" stroke-width="0.8"/>
<text x="249.5" y="369.66" font-size="9.6" fill="#f2fbe9" text-anchor="middle" font-weight="bold">噪音率</text>
<rect x="277.7" y="359.6" width="69.3" height="12.8" rx="2" fill="#69B72E" stroke="#58A81D" stroke-width="0.8"/>
<text x="312.35" y="369.66" font-size="9.6" fill="#f2fbe9" text-anchor="middle" font-weight="bold">功能满足率</text>
<rect x="356.5" y="359.6" width="55.8" height="12.8" rx="2" fill="#69B72E" stroke="#58A81D" stroke-width="0.8"/>
<text x="384.4" y="369.66" font-size="9.6" fill="#f2fbe9" text-anchor="middle" font-weight="bold">准确率</text>
<rect x="414.3" y="359.6" width="57.3" height="12.8" rx="2" fill="#69B72E" stroke="#58A81D" stroke-width="0.8"/>
<text x="442.95" y="369.66" font-size="9.6" fill="#f2fbe9" text-anchor="middle" font-weight="bold">研判效率</text>
<rect x="480.3" y="359.6" width="60.2" height="12.8" rx="2" fill="#69B72E" stroke="#58A81D" stroke-width="0.8"/>
<text x="510.4" y="369.66" font-size="9.6" fill="#f2fbe9" text-anchor="middle" font-weight="bold">响应效率</text>
<rect x="543" y="359.6" width="51" height="12.8" rx="2" fill="#69B72E" stroke="#58A81D" stroke-width="0.8"/>
<text x="568.5" y="369.66" font-size="9.6" fill="#f2fbe9" text-anchor="middle" font-weight="bold">自动化</text>
<rect x="603" y="359.6" width="55.7" height="12.8" rx="2" fill="#69B72E" stroke="#58A81D" stroke-width="0.8"/>
<text x="630.85" y="369.66" font-size="9.6" fill="#f2fbe9" text-anchor="middle" font-weight="bold">闭环率</text>
<rect x="661" y="359.6" width="75.5" height="12.8" rx="2" fill="#69B72E" stroke="#58A81D" stroke-width="0.8"/>
<text x="698.75" y="369.66" font-size="9.6" fill="#f2fbe9" text-anchor="middle" font-weight="bold">画像完成率</text>
<rect x="224.6" y="344.4" width="49.8" height="12.4" rx="2" fill="#69B72E" stroke="#58A81D" stroke-width="0.8"/>
<text x="249.5" y="354.26" font-size="9.6" fill="#f2fbe9" text-anchor="middle" font-weight="bold">覆盖率</text>
<rect x="277.7" y="344.4" width="69.3" height="12.4" rx="2" fill="#69B72E" stroke="#58A81D" stroke-width="0.8"/>
<text x="312.35" y="354.26" font-size="9.6" fill="#f2fbe9" text-anchor="middle" font-weight="bold">策略完整率</text>
<polygon points="75.7,375.6 757.9,375.6 757.9,367 776.4,384.8 757.9,402.8 757.9,393.4 75.7,393.4" fill="#00B050"/>
<text x="421.8" y="389.57" font-size="13.8" fill="#fff" text-anchor="middle" font-weight="bold">攻防对抗全生命周期</text>
<rect x="0" y="400.6" width="830" height="2.4" fill="url(#gb)"/>
</svg>
</body>
</html>
